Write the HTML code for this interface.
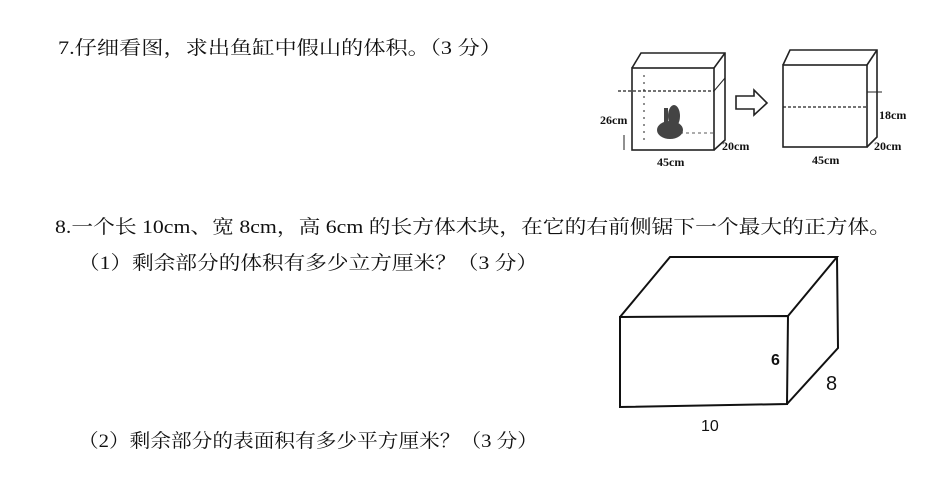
<!DOCTYPE html>
<html><head><meta charset="utf-8"><style>
html,body{margin:0;padding:0;background:#fff;}
svg{display:block}
.t{font-family:"Liberation Serif","Noto Serif CJK SC",serif;font-size:19px;fill:#111}
</style></head><body>
<svg width="936" height="492" viewBox="0 0 936 492" xmlns="http://www.w3.org/2000/svg">
<rect width="936" height="492" fill="#fff"/>
<text class="t" x="58" y="54" textLength="444" lengthAdjust="spacingAndGlyphs">7.仔细看图，求出鱼缸中假山的体积。（3 分）</text>
<text class="t" x="55" y="233" textLength="836" lengthAdjust="spacingAndGlyphs">8.一个长 10cm、宽 8cm，高 6cm 的长方体木块，在它的右前侧锯下一个最大的正方体。</text>
<text class="t" x="78" y="269" textLength="460" lengthAdjust="spacingAndGlyphs">（1）剩余部分的体积有多少立方厘米？（3 分）</text>
<text class="t" x="78" y="447" textLength="460" lengthAdjust="spacingAndGlyphs">（2）剩余部分的表面积有多少平方厘米？（3 分）</text>

<!-- fish tank 1 -->
<g fill="none" stroke="#222" stroke-width="1.6">
<rect x="632" y="68" width="82" height="82"/>
<polyline points="632,68 641,53 725,53 725,140 714,150"/>
<line x1="714" y1="68" x2="725" y2="53"/>
<line x1="714" y1="91" x2="725" y2="78" stroke-width="1"/>
<line x1="618" y1="91" x2="714" y2="91" stroke-dasharray="3,2" stroke-width="1.2"/>
<line x1="644" y1="75" x2="644" y2="145" stroke-dasharray="2,5" stroke-width="1"/>
<line x1="624" y1="135" x2="624" y2="150" stroke-width="1"/>
<line x1="680" y1="133" x2="714" y2="133" stroke-dasharray="3,3" stroke-width="0.8"/>
</g>
<g fill="#444"><ellipse cx="670" cy="130" rx="13" ry="9"/><ellipse cx="674" cy="116" rx="6" ry="11"/><rect x="664" y="108" width="4" height="14"/></g>
<text x="600" y="124" font-family="Liberation Serif,serif" font-size="12" font-weight="bold" fill="#111">26cm</text>
<text x="722" y="150" font-family="Liberation Serif,serif" font-size="12" font-weight="bold" fill="#111">20cm</text>
<text x="657" y="166" font-family="Liberation Serif,serif" font-size="12" font-weight="bold" fill="#111">45cm</text>
<!-- arrow -->
<polygon points="736,96 754,96 754,90 767,103 754,115 754,109 736,109" fill="none" stroke="#222" stroke-width="1.6"/>
<!-- tank 2 -->
<g fill="none" stroke="#222" stroke-width="1.6">
<rect x="783" y="65" width="84" height="82"/>
<polyline points="783,65 790,50 877,50 877,137 867,147"/>
<line x1="867" y1="65" x2="877" y2="50"/>
<line x1="783" y1="107" x2="867" y2="107" stroke-dasharray="3,2" stroke-width="1.2"/>
<line x1="867" y1="92" x2="882" y2="92" stroke-width="1"/>
</g>
<text x="879" y="119" font-family="Liberation Serif,serif" font-size="12" font-weight="bold" fill="#111">18cm</text>
<text x="874" y="150" font-family="Liberation Serif,serif" font-size="12" font-weight="bold" fill="#111">20cm</text>
<text x="812" y="164" font-family="Liberation Serif,serif" font-size="12" font-weight="bold" fill="#111">45cm</text>

<!-- cuboid -->
<g fill="none" stroke="#111" stroke-width="2">
<polygon points="620,317 788,316 787,404 620,407"/>
<polyline points="620,317 670,257 837,257 788,316"/>
<polyline points="837,257 838,348 787,404"/>
</g>
<text x="771" y="365" font-family="Liberation Sans,sans-serif" font-size="16" font-weight="bold" fill="#111">6</text>
<text x="826" y="390" font-family="Liberation Sans,sans-serif" font-size="20" fill="#111">8</text>
<text x="701" y="431" font-family="Liberation Sans,sans-serif" font-size="16" fill="#111">10</text>
</svg>
</body></html>
